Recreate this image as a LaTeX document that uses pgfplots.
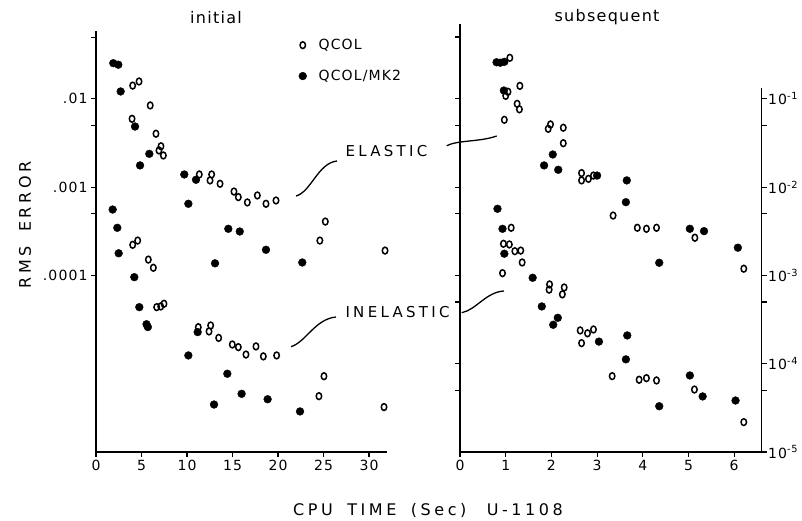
\documentclass[border=0pt]{standalone}
\usepackage{pgfplots}
\usepackage{pgfplotstable}
\pgfplotsset{compat=1.18}
\usepackage{fontspec}
\setmainfont{DejaVu Sans}[LetterSpace=8]
\newfontfamily\capsfont{DejaVu Sans}[LetterSpace=22]

\pgfplotstableread{
x y
4.03 0.0141
4.73 0.0157
5.96 0.0084
3.96 0.00593
6.59 0.00402
7.14 0.0029
6.92 0.0026
7.40 0.00228
11.35 0.00139
12.71 0.00139
12.53 0.00119
13.63 0.00109
15.16 0.00089
15.64 0.00077
16.63 0.00067
17.73 0.000804
18.68 0.000647
19.78 0.000705
24.6 0.000248
25.2 0.000407
31.76 0.000191
4.03 0.000222
4.58 0.000248
5.75 0.000151
6.30 0.000122
6.67 4.37e-5
7.11 4.45e-5
7.47 4.77e-5
11.24 2.59e-5
12.60 2.71e-5
12.42 2.32e-5
13.48 1.96e-5
14.98 1.65e-5
15.64 1.54e-5
16.48 1.27e-5
17.58 1.57e-5
18.39 1.21e-5
19.85 1.24e-5
25.05 7.22e-6
24.5 4.29e-6
31.65 3.23e-6
}\initopen

\pgfplotstableread{
x y
1.90 0.0253
2.45 0.0243
2.71 0.0121
4.29 0.00485
4.84 0.00176
5.86 0.00238
9.70 0.00139
10.15 0.000647
10.99 0.00121
14.54 0.000337
15.80 0.000314
18.68 0.000195
13.08 0.000137
22.67 0.00014
1.83 0.000557
2.34 0.000346
2.49 0.000178
4.21 9.55e-5
4.76 4.37e-5
5.55 2.8e-5
5.70 2.6e-5
10.15 1.24e-5
11.17 2.28e-5
14.43 7.7e-6
16.0 4.56e-6
12.97 3.45e-6
18.86 3.96e-6
22.42 2.88e-6
}\initfull

\pgfplotstableread{
x y
1.09 0.0291
1.05 0.0120
1.00 0.0108
1.31 0.0140
1.25 0.00877
1.30 0.0076
0.97 0.00578
1.93 0.00457
1.98 0.00512
2.26 0.0047
2.26 0.00314
2.66 0.00144
2.66 0.00119
2.81 0.00124
2.92 0.00135
3.35 0.000476
3.88 0.000346
4.08 0.000337
4.30 0.000346
5.14 0.000267
6.21 0.000119
1.12 0.000346
0.95 0.000228
1.08 0.000224
1.20 0.000188
1.33 0.000191
1.36 0.00014
0.93 0.000106
1.96 7.9e-5
1.95 6.9e-5
2.28 7.3e-5
2.24 6.1e-5
2.63 2.38e-5
2.79 2.21e-5
2.92 2.44e-5
2.66 1.71e-5
3.33 7.23e-6
3.92 6.58e-6
4.08 6.86e-6
4.30 6.46e-6
5.13 5.1e-6
6.21 2.18e-6
}\subsopen

\pgfplotstableread{
x y
0.80 0.0259
0.88 0.0256
0.97 0.0262
0.96 0.0124
2.03 0.00234
1.84 0.00176
2.15 0.00157
3.00 0.00135
3.65 0.00119
3.63 0.000675
5.03 0.000337
5.34 0.000317
6.08 0.000206
4.36 0.000139
0.82 0.000568
0.93 0.000337
0.97 0.000176
1.59 9.4e-5
1.79 4.45e-5
2.14 3.31e-5
2.04 2.76e-5
3.04 1.78e-5
3.66 2.09e-5
3.63 1.12e-5
4.36 3.3e-6
5.03 7.36e-6
5.31 4.26e-6
6.03 3.83e-6
}\subsfull

\begin{document}
\begin{tikzpicture}
\path[use as bounding box] (0pt,0pt) rectangle (802pt,-521pt);
% left panel: initial
\begin{axis}[
  scale only axis, ymode=log,
  tick align=outside, major tick length=5pt, minor tick length=5pt,
  axis line style={line width=1.4pt},
  tick style={line width=1.1pt, black},
  tick label style={font=\fontsize{14}{16}\selectfont},
  /pgf/number format/assume math mode=true,
  clip=false,
  at={(96pt,-452pt)}, anchor=south west,
  width=291.2pt, height=421.3pt,
  xmin=0, xmax=32, ymin=1e-6, ymax=0.059,
  axis x line*=bottom, axis y line*=left,
  x axis line style={-}, y axis line style={-},
  xtick={0,5,10,15,20,25,30},
  ytick={1e-4,1e-3,1e-2}, yticklabels={.0001,.001,.01},
  minor ytick={5e-4,5e-3,5e-2},
  legend style={at={(0.696,0.985)}, anchor=north west, draw=none, fill=none,
    font=\fontsize{14}{16}\selectfont, row sep=15pt, column sep=10pt, inner sep=0pt},
  legend cell align=left,
]
\addplot[only marks, mark=o, mark size=3.4pt, black, mark options={line width=1.5pt, xscale=0.8}] table[x=x,y=y] {\initopen};
\addlegendentry{QCOL}
\addplot[only marks, mark=*, mark size=3.9pt, black] table[x=x,y=y] {\initfull};
\addlegendentry{QCOL/MK2}
\end{axis}
% right panel: subsequent
\begin{axis}[
  scale only axis, ymode=log,
  tick align=outside, major tick length=5pt, minor tick length=5pt,
  axis line style={line width=1.4pt},
  tick style={line width=1.1pt, black},
  tick label style={font=\fontsize{14}{16}\selectfont},
  /pgf/number format/assume math mode=true,
  clip=false,
  at={(460pt,-452pt)}, anchor=south west,
  width=301.6pt, height=428.4pt,
  xmin=0, xmax=6.6, ymin=1e-6, ymax=0.071,
  axis x line*=bottom, axis y line*=left,
  x axis line style={-}, y axis line style={-},
  xtick={0,1,2,3,4,5,6},
  ytick={1e-5,1e-4,1e-3,1e-2}, yticklabels={},
  minor ytick={5e-6,5e-5,5e-4,5e-3,5e-2},
]
\addplot[only marks, mark=o, mark size=3.4pt, black, mark options={line width=1.5pt, xscale=0.8}] table[x=x,y=y] {\subsopen};
\addplot[only marks, mark=*, mark size=3.9pt, black] table[x=x,y=y] {\subsfull};
\end{axis}
% right-hand scale
\begin{axis}[
  scale only axis, ymode=log,
  tick align=outside, major tick length=5pt, minor tick length=5pt,
  axis line style={line width=1.4pt},
  tick style={line width=1.1pt, black},
  /pgf/number format/assume math mode=true,
  clip=false,
  at={(460pt,-452pt)}, anchor=south west,
  width=301.6pt, height=364.4pt,
  xmin=0, xmax=6.6, ymin=1e-5, ymax=0.134,
  axis y line*=right, axis x line=none,
  y axis line style={-},
  ytick={1e-5,1e-4,1e-3,1e-2,1e-1},
  yticklabels={10\textsuperscript{-5},10\textsuperscript{-4},10\textsuperscript{-3},10\textsuperscript{-2},10\textsuperscript{-1}},
  minor ytick={5e-5,5e-4,5e-3,5e-2},
  yticklabel style={font=\fontsize{14}{16}\selectfont, xshift=-2pt},
]
\addplot[draw=none, mark=none, forget plot] coordinates {(0,1e-5) (6.6,0.134)};
\end{axis}
% titles and labels
\node[font=\fontsize{16}{18}\selectfont] at (216pt,-18pt) {initial};
\node[font=\fontsize{16}{18}\selectfont] at (607pt,-17pt) {subsequent};
\node[font=\fontsize{16}{18}\selectfont\capsfont, rotate=90] at (25pt,-225pt) {RMS\hspace{6pt} ERROR};
\node[font=\fontsize{16}{18}\selectfont\capsfont] at (428pt,-510pt) {CPU\hspace{6pt} TIME\hspace{6pt} (Sec)\hspace{12pt} U-1108};
\node[font=\fontsize{15}{17}\selectfont\capsfont, anchor=west] at (342pt,-151pt) {ELASTIC};
\node[font=\fontsize{15}{17}\selectfont\capsfont, anchor=west] at (342pt,-312pt) {INELASTIC};
% leader lines
\draw[line width=1.3pt] (296pt,-196pt) .. controls (311pt,-192pt) and (318pt,-163pt) .. (337pt,-161pt);
\draw[line width=1.3pt] (291pt,-346.7pt) .. controls (306pt,-342pt) and (315pt,-319pt) .. (336pt,-317pt);
\draw[line width=1.3pt] (446.7pt,-145.7pt) .. controls (458pt,-140pt) and (480pt,-142pt) .. (496.7pt,-136pt);
\draw[line width=1.3pt] (461.7pt,-312.7pt) .. controls (476pt,-310pt) and (486pt,-292pt) .. (504pt,-291pt);
\end{tikzpicture}
\end{document}
